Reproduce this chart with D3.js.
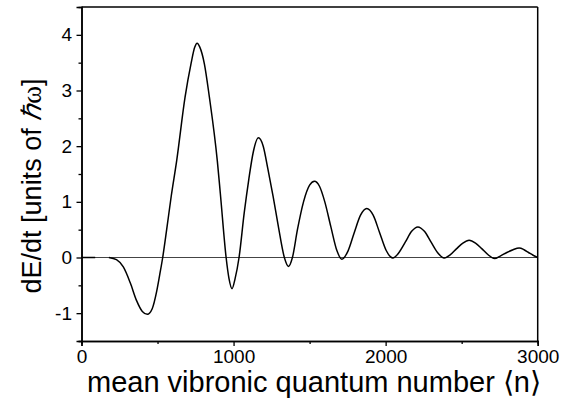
<!DOCTYPE html>
<html><head><meta charset="utf-8">
<script src="https://cdn.jsdelivr.net/npm/d3@7"></script>
<style>
html,body{margin:0;padding:0;background:#fff;}
text{font-family:"Liberation Sans",Arial,sans-serif;fill:#000;}
</style></head>
<body><svg id="c" width="574" height="409"></svg>
<script>
// Data (n = mean vibronic quantum number, value = dE/dt in units of hbar*omega)
const nValues = [0,90,135,180,230,275,320,363,400,433,465,495,515,534,560,590,626,681,720,745,760,778,808,841,893,913,951,970,990,1010,1036,1070,1100,1130,1163,1195,1225,1260,1295,1334,1361,1387,1420,1460,1500,1532,1565,1600,1640,1680,1712,1753,1794,1835,1876,1918,1960,2003,2047,2088,2130,2171,2212,2255,2298,2341,2385,2426,2467,2508,2549,2591,2632,2674,2716,2756,2797,2838,2878,2910,2940,2970,3000];
const dEdt = [0,0,null,0,-0.04,-0.17,-0.45,-0.78,-0.97,-1.02,-0.92,-0.6,-0.3,0,0.5,1.1,1.74,2.88,3.48,3.78,3.85,3.78,3.48,2.88,1.74,1.15,0,-0.38,-0.56,-0.38,0,0.8,1.4,1.9,2.15,2.0,1.6,1.1,0.55,0,-0.16,0,0.5,1.0,1.3,1.37,1.28,1.0,0.55,0.12,-0.03,0.12,0.45,0.76,0.88,0.76,0.45,0.13,-0.01,0.09,0.28,0.47,0.55,0.47,0.28,0.09,-0.01,0.05,0.16,0.26,0.31,0.26,0.16,0.05,-0.02,0.03,0.09,0.14,0.17,0.14,0.09,0.04,0.0];
const xTicks = [0,1000,2000,3000];
const xMinor = [500,1500,2500];
const yTicks = [-1,0,1,2,3,4];
const yMinor = [-1.5,-0.5,0.5,1.5,2.5,3.5];
const xDomain = [0,3000];
const yDomain = [-1.5,4.5];

const svg = d3.select("#c");
const L=81.5, R=537.7, T=7, B=341;
const x = d3.scaleLinear().domain(xDomain).range([L,R]);
const y = d3.scaleLinear().domain(yDomain).range([B,T]);

// zero line
svg.append("line").attr("x1",L).attr("x2",R).attr("y1",y(0)).attr("y2",y(0))
  .attr("stroke","#444").attr("stroke-width",1.2);

// curve
const pts = nValues.map((n,i)=>({n, v:dEdt[i]}));
const line = d3.line().defined(d=>d.v!==null).x(d=>x(d.n)).y(d=>y(d.v)).curve(d3.curveMonotoneX);
svg.append("path").datum(pts).attr("d",line).attr("fill","none").attr("stroke","#000").attr("stroke-width",1.5);

// frame top/right
svg.append("line").attr("x1",L).attr("x2",R).attr("y1",T).attr("y2",T).attr("stroke","#000").attr("stroke-width",1.3);
svg.append("line").attr("x1",R).attr("x2",R).attr("y1",T).attr("y2",B).attr("stroke","#000").attr("stroke-width",1.5);

// axes
const fmt = d => String(d);
const gx = svg.append("g").attr("transform",`translate(0,${B})`)
  .call(d3.axisBottom(x).tickValues(xTicks).tickFormat(fmt).tickSize(5).tickPadding(4));
svg.append("g").attr("transform",`translate(0,${B})`).call(d3.axisBottom(x).tickValues(xMinor).tickFormat("").tickSize(3));

const gy = svg.append("g").attr("transform",`translate(${L},0)`)
  .call(d3.axisLeft(y).tickValues(yTicks).tickFormat(fmt).tickSize(5));
svg.append("g").attr("transform",`translate(${L},0)`).call(d3.axisLeft(y).tickValues(yMinor).tickFormat("").tickSize(3));

svg.selectAll(".domain").attr("stroke","#000").attr("stroke-width",1.5);
svg.selectAll(".tick line").attr("stroke","#000").attr("stroke-width",1.3);
svg.selectAll(".tick text").attr("font-size",19).attr("font-family","'Liberation Sans',Arial,sans-serif");
gy.selectAll(".tick text").attr("x",-9.5);

// axis titles
svg.append("text").attr("x",314).attr("y",392).attr("text-anchor","middle")
  .attr("font-size",29)
  .text("mean vibronic quantum number \u27E8n\u27E9");

const yt = svg.append("text").attr("transform",`translate(41,186) rotate(-90)`).attr("text-anchor","middle").attr("font-size",27);
yt.append("tspan").text("dE/dt [units of ");
yt.append("tspan").attr("font-style","italic").attr("font-family","'Liberation Serif','Times New Roman',serif").text("\u210F");
yt.append("tspan").attr("font-family","'Liberation Serif','Times New Roman',serif").text("\u03C9");
yt.append("tspan").text("]");
</script></body></html>
